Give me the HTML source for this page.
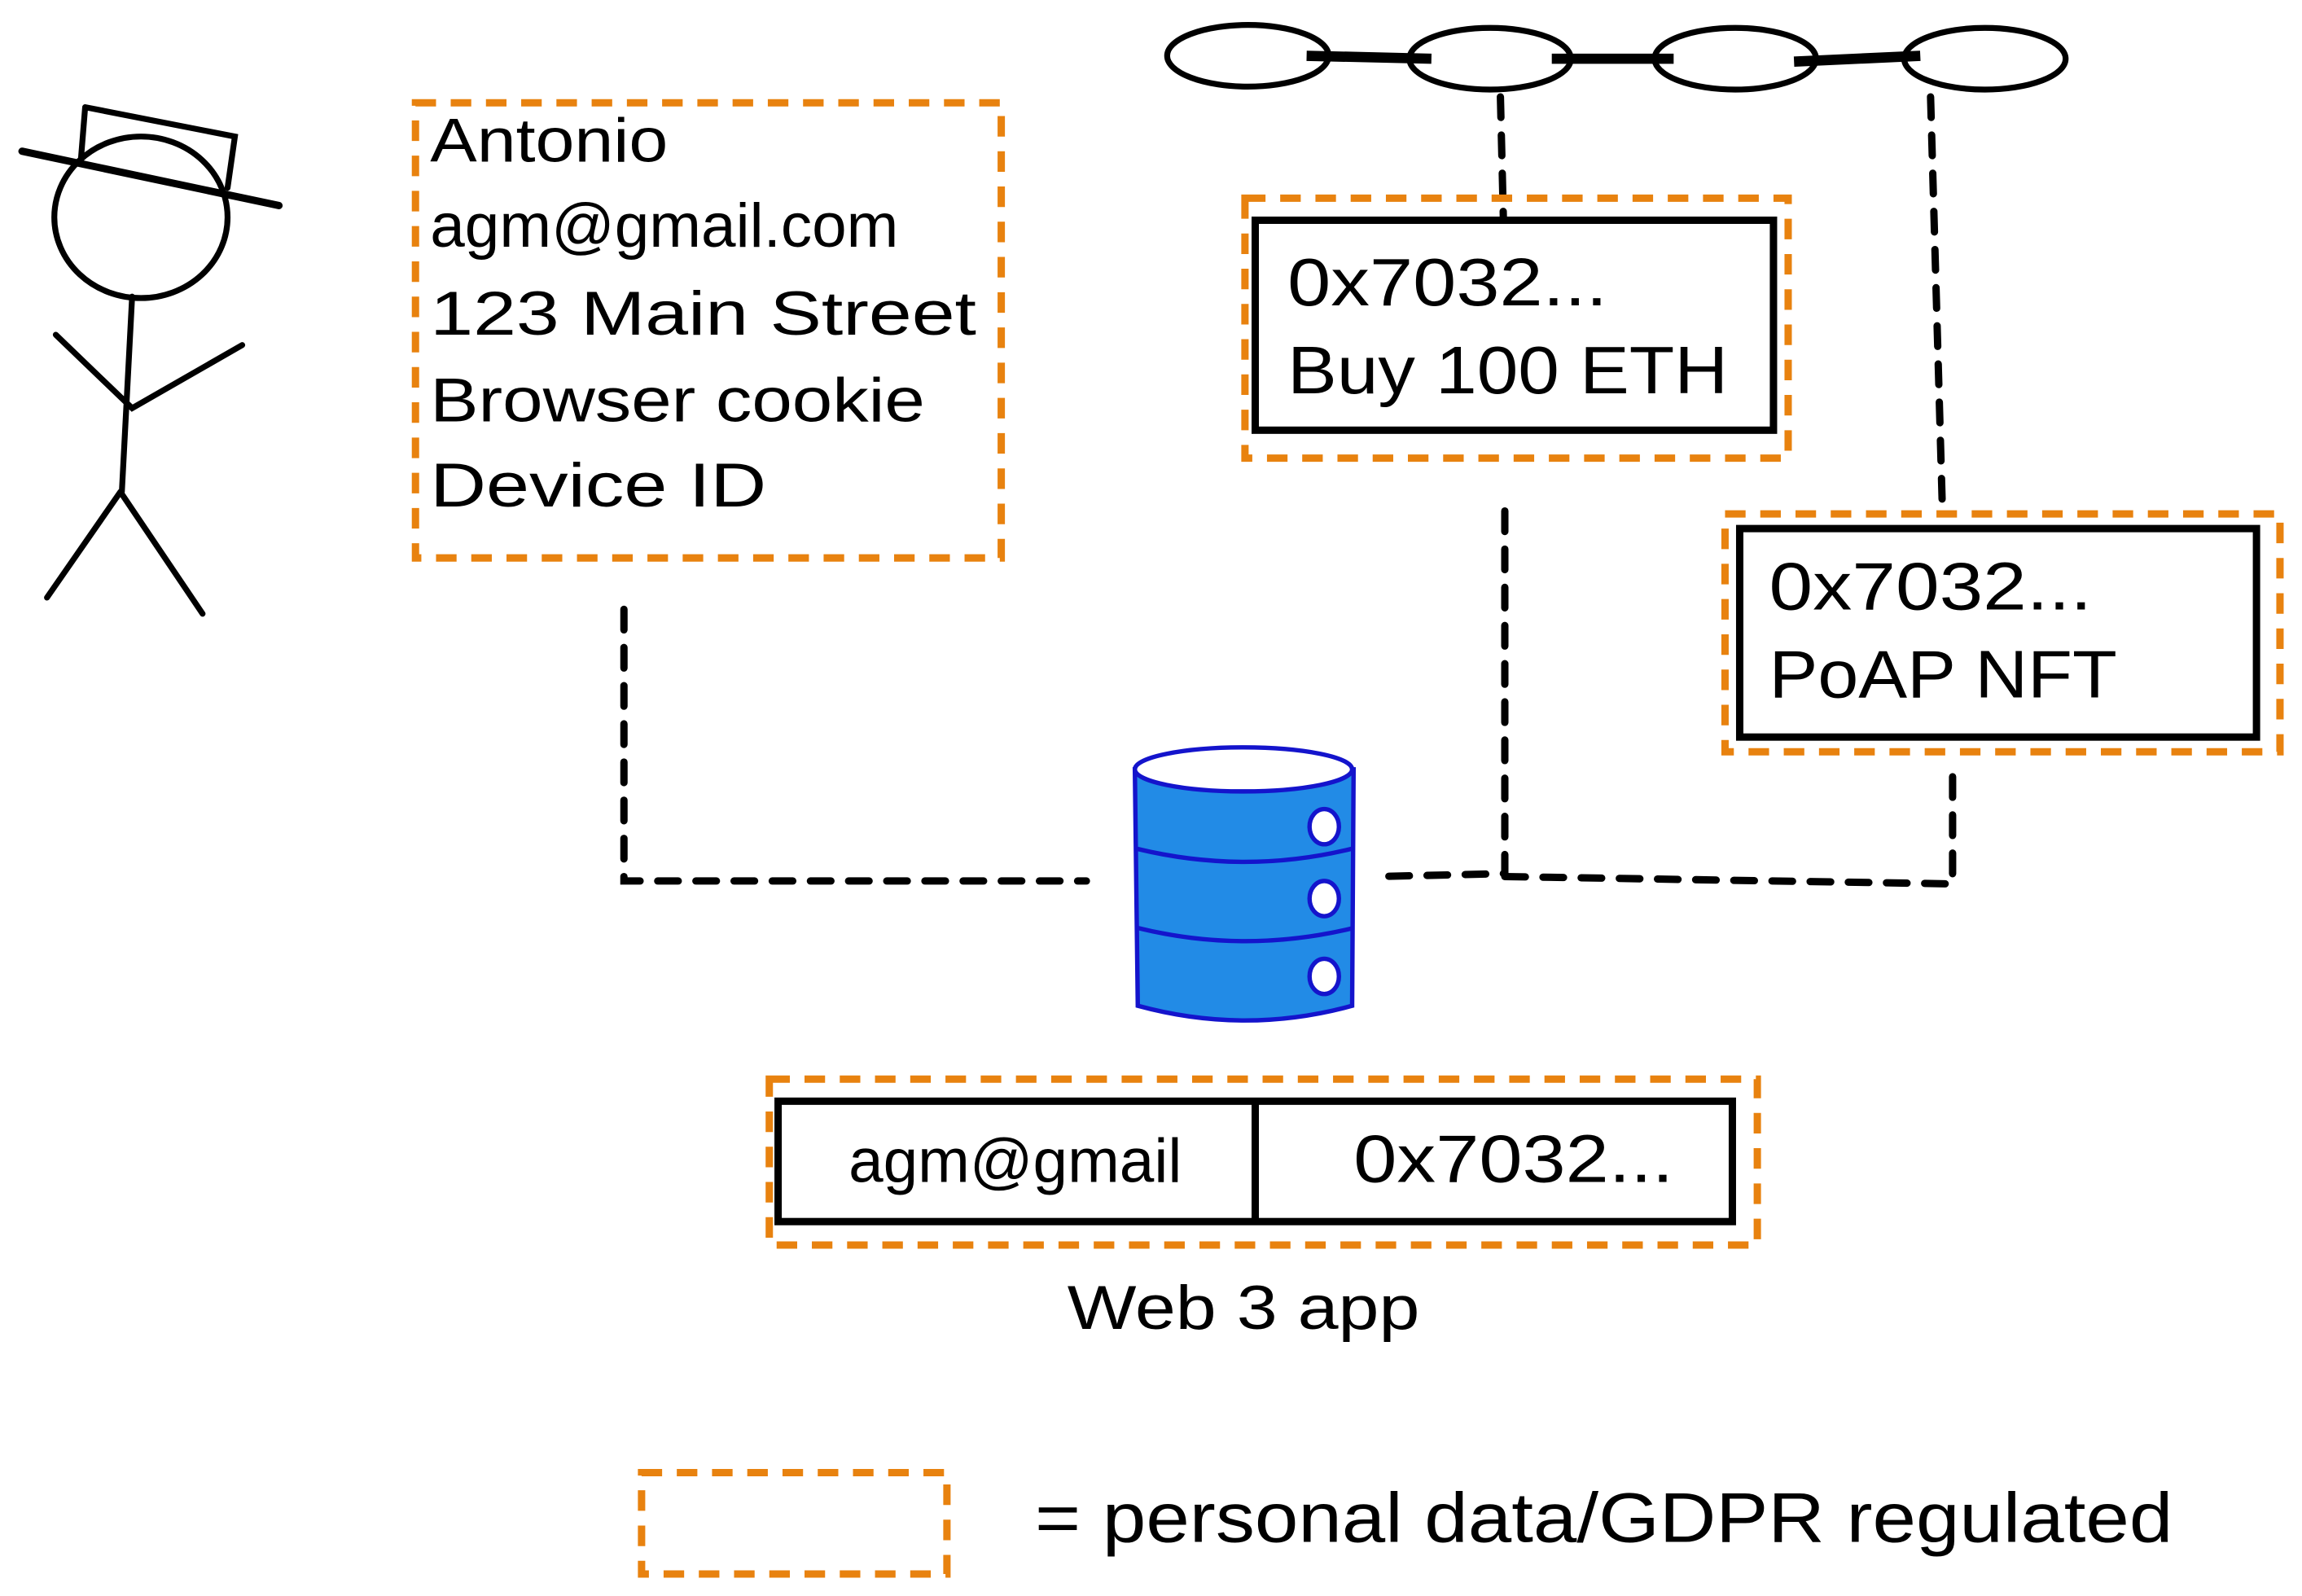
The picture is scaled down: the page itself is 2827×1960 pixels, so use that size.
<!DOCTYPE html>
<html><head><style>html,body{margin:0;padding:0;background:#fff}svg{display:block}</style></head>
<body>
<svg width="2827" height="1960" viewBox="0 0 1568 1087" preserveAspectRatio="none" xmlns="http://www.w3.org/2000/svg">
<rect width="1568" height="1087" fill="#fff"/>
<g fill="none" stroke="#000" stroke-width="4" stroke-linecap="round">
<path d="M58,73 L160,93 L155,128 M58,73 L55,110"/>
<path d="M15,103 L190,140" stroke-width="5"/>
<ellipse cx="96" cy="148" rx="59" ry="55"/>
<path d="M90,202 L83,335 M38,228 L90,278 L165,235 M82,335 L32,407 M82,335 L138,418"/>
</g>
<g fill="none" stroke="#000" stroke-width="4">
<ellipse cx="850" cy="38" rx="55" ry="21"/>
<ellipse cx="1015" cy="40" rx="55" ry="21"/>
<ellipse cx="1182" cy="40" rx="55" ry="21"/>
<ellipse cx="1352" cy="40" rx="55" ry="21"/>
<path d="M890,38 L975,40 M1057,40 L1140,40 M1222,42 L1308,38" stroke-width="7"/>
</g>
<g fill="none" stroke="#000" stroke-width="5" stroke-dasharray="14 12" stroke-linecap="round">
<path d="M1022,66 L1024,148"/>
<path d="M1315,66 L1323,345"/>
<path d="M1025,348 L1025,595 L938,597"/>
<path d="M1025,597 L1330,602 L1330,525"/>
<path d="M425,415 L425,600 L740,600"/>
</g>
<g fill="none" stroke="#e8820f" stroke-width="5" stroke-dasharray="14 10">
<rect x="283" y="70" width="399" height="310"/>
<rect x="848" y="135" width="370" height="177"/>
<rect x="1175" y="350" width="378" height="162"/>
<rect x="524" y="735" width="673" height="113"/>
<rect x="437" y="1003" width="208" height="69"/>
</g>
<g fill="#fff" stroke="#000" stroke-width="5">
<rect x="855" y="150" width="353" height="143"/>
<rect x="1185" y="360" width="352" height="142"/>
<rect x="530" y="750" width="650" height="82"/>
<path d="M855,750 L855,832"/>
</g>
<g stroke="#1414cc" stroke-width="3">
<path d="M773,524 L775,685 Q848,705 921,685 L922,524 Z" fill="#228be6"/>
<ellipse cx="847" cy="524" rx="74" ry="15" fill="#fff"/>
<path d="M774,578 Q848,596 921,578 M775,632 Q848,650 922,632" fill="none"/>
<ellipse cx="902" cy="563" rx="10" ry="12" fill="#fff"/>
<ellipse cx="902" cy="612" rx="10" ry="12" fill="#fff"/>
<ellipse cx="902" cy="665" rx="10" ry="12" fill="#fff"/>
</g>
<g font-family="Liberation Sans, sans-serif" fill="#000" lengthAdjust="spacingAndGlyphs">
<g font-size="42">
<text x="293" y="110" textLength="162" lengthAdjust="spacingAndGlyphs">Antonio</text>
<text x="293" y="168" textLength="319" lengthAdjust="spacingAndGlyphs">agm@gmail.com</text>
<text x="293" y="228" textLength="372" lengthAdjust="spacingAndGlyphs">123 Main Street</text>
<text x="293" y="287" textLength="337" lengthAdjust="spacingAndGlyphs">Browser cookie</text>
<text x="293" y="345" textLength="229" lengthAdjust="spacingAndGlyphs">Device ID</text>
</g>
<g font-size="46">
<text x="877" y="208" textLength="218" lengthAdjust="spacingAndGlyphs">0x7032...</text>
<text x="877" y="268" textLength="300" lengthAdjust="spacingAndGlyphs">Buy 100 ETH</text>
<text x="1205" y="415" textLength="220" lengthAdjust="spacingAndGlyphs">0x7032...</text>
<text x="1205" y="475" textLength="237" lengthAdjust="spacingAndGlyphs">PoAP NFT</text>
</g>
<text x="578" y="805" font-size="42" textLength="227" lengthAdjust="spacingAndGlyphs">agm@gmail</text>
<text x="922" y="805" font-size="46" textLength="218" lengthAdjust="spacingAndGlyphs">0x7032...</text>
<text x="727" y="905" font-size="42" textLength="240" lengthAdjust="spacingAndGlyphs">Web 3 app</text>
<text x="705" y="1050" font-size="48" textLength="775" lengthAdjust="spacingAndGlyphs">= personal data/GDPR regulated</text>
</g>
</svg>
</body></html>
